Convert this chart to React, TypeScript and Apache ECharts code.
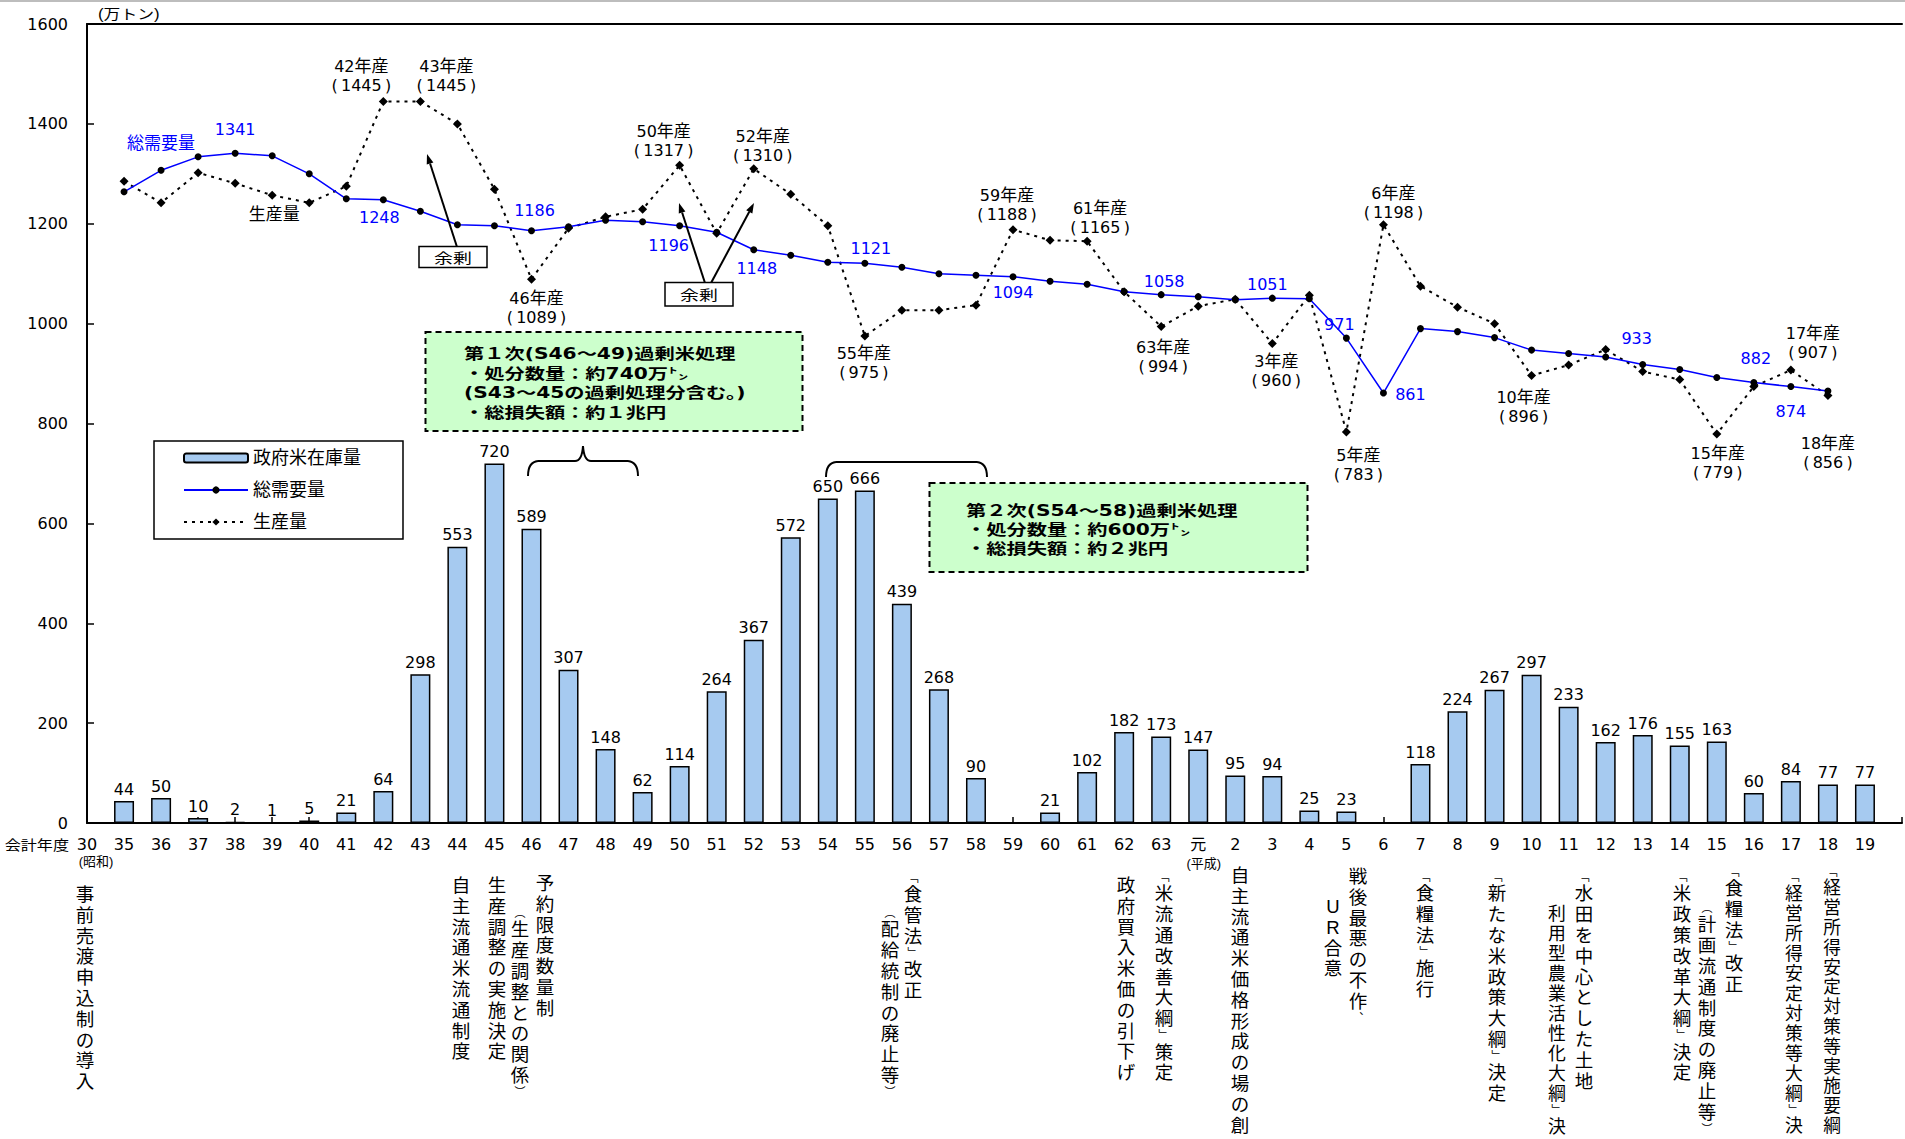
import React, { useEffect, useRef } from "react";
import * as echarts from "echarts";

// ---- data ----
const fiscalYears = [
  "30", "35", "36", "37", "38", "39", "40", "41", "42", "43", "44", "45", "46", "47", "48", "49",
  "50", "51", "52", "53", "54", "55", "56", "57", "58", "59", "60", "61", "62", "63",
  "元", "2", "3", "4", "5", "6", "7", "8", "9", "10", "11", "12", "13", "14", "15", "16", "17", "18", "19",
];

// 政府米在庫量 (万トン)
const stockVolume = [
  null, 44, 50, 10, 2, 1, 5, 21, 64, 298, 553, 720, 589, 307, 148, 62,
  114, 264, 367, 572, 650, 666, 439, 268, 90, null, 21, 102, 182, 173,
  147, 95, 94, 25, 23, null, 118, 224, 267, 297, 233, 162, 176, 155, 163, 60, 84, 77, 77,
];

// 総需要量 (万トン)
const totalDemand = [
  null, 1264, 1307, 1334, 1341, 1336, 1300, 1250, 1248, 1225, 1198, 1196, 1186, 1194, 1207, 1204,
  1196, 1183, 1148, 1137, 1123, 1121, 1113, 1100, 1097, 1094, 1085, 1079, 1064, 1058,
  1054, 1048, 1051, 1050, 971, 861, 990, 984, 972, 947, 940, 933, 918, 908, 892, 882, 874, 865, null,
];

// 生産量 (万トン)
const production = [
  null, 1285, 1242, 1302, 1281, 1257, 1242, 1275, 1445, 1445, 1400, 1269, 1089, 1191, 1214, 1229,
  1317, 1181, 1310, 1259, 1196, 975, 1027, 1027, 1037, 1188, 1167, 1165, 1064, 994,
  1035, 1049, 960, 1057, 783, 1198, 1075, 1033, 1000, 896, 917, 948, 904, 888, 779, 874, 907, 856, null,
];

const yTickMin = 0;
const yTickMax = 1600;
const yTickStep = 200;

// label placement notes (offsets in px from the point)
const demandNotes = [
  { year: "36", name: "総需要量", dx: 0, dy: -27 },
  { year: "38", dx: 0, dy: -24 },
  { year: "42", dx: -4, dy: 18 },
  { year: "46", dx: 3, dy: -20 },
  { year: "50", dx: -11, dy: 20 },
  { year: "52", dx: 3, dy: 19 },
  { year: "55", dx: 6, dy: -15 },
  { year: "59", dx: 0, dy: 16 },
  { year: "63", dx: 3, dy: -13 },
  { year: "3", dx: -5, dy: -14 },
  { year: "5", dx: -7, dy: -14 },
  { year: "6", dx: 27, dy: 1 },
  { year: "12", dx: 31, dy: -19 },
  { year: "16", dx: 2, dy: -24 },
  { year: "17", dx: 0, dy: 25 },
];

const productionNotes = [
  { year: "39", name: "生産量", dx: 2, dy: 19 },
  { year: "42", dx: -22, dy: -25 },
  { year: "43", dx: 26, dy: -25 },
  { year: "46", dx: 5, dy: 29 },
  { year: "50", dx: -16, dy: -24 },
  { year: "52", dx: 9, dy: -23 },
  { year: "55", dx: -1, dy: 27 },
  { year: "59", dx: -6, dy: -25 },
  { year: "61", dx: 13, dy: -23 },
  { year: "63", dx: 2, dy: 30 },
  { year: "3", dx: 4, dy: 27 },
  { year: "5", dx: 12, dy: 33 },
  { year: "6", dx: 10, dy: -22 },
  { year: "10", dx: -8, dy: 31 },
  { year: "15", dx: 1, dy: 29 },
  { year: "17", dx: 22, dy: -27 },
  { year: "18", dx: 0, dy: 57 },
];

// policy events written vertically under the axis (the text visible in the reference)
const policyEvents = [
  { text: "事前売渡申込制の導入", x: 85, y: 884 },
  { text: "自主流通米流通制度", x: 461, y: 875 },
  { text: "生産調整の実施決定", x: 497, y: 875 },
  { text: "︵生産調整との関係︶", x: 520, y: 907 },
  { text: "予約限度数量制", x: 545, y: 873 },
  { text: "﹁食管法﹂改正", x: 913, y: 872 },
  { text: "︵配給統制の廃止等︶", x: 890, y: 907 },
  { text: "政府買入米価の引下げ", x: 1126, y: 875 },
  { text: "﹁米流通改善大綱﹂策定", x: 1164, y: 871 },
  { text: "自主流通米価格形成の場の創", x: 1240, y: 865 },
  { text: "戦後最悪の不作︑", x: 1358, y: 866 },
  { text: "UR合意", x: 1333, y: 896 },
  { text: "﹁食糧法﹂施行", x: 1425, y: 871 },
  { text: "﹁新たな米政策大綱﹂決定", x: 1497, y: 871 },
  { text: "﹁水田を中心とした土地", x: 1584, y: 871 },
  { text: "利用型農業活性化大綱﹂決", x: 1557, y: 904, pitch: 20 },
  { text: "﹁米政策改革大綱﹂決定", x: 1682, y: 871 },
  { text: "﹁食糧法﹂改正", x: 1734, y: 866 },
  { text: "︵計画流通制度の廃止等︶", x: 1707, y: 902 },
  { text: "﹁経営所得安定対策等大綱﹂決", x: 1794, y: 871, pitch: 20 },
  { text: "﹁経営所得安定対策等実施要綱", x: 1832, y: 866, pitch: 19.8 },
];

const surplusBox1 = ["第１次(S46～49)過剰米処理", "・処分数量：約740万㌧", "(S43～45の過剰処理分含む。)", "・総損失額：約１兆円"];
const surplusBox2 = ["第２次(S54～58)過剰米処理", "・処分数量：約600万㌧", "・総損失額：約２兆円"];

// ---- styling helpers ----
const LATIN = "'DejaVu Sans', 'Noto Sans CJK JP', sans-serif";
const COMPACT = "'Liberation Sans', 'Noto Sans CJK JP', sans-serif";
const CJK = "'Noto Sans CJK JP', 'DejaVu Sans', sans-serif";
const BLUE = "#0000ff";

function richFor(color: string) {
  return {
    num: { fontFamily: LATIN, fontSize: 16, lineHeight: 19, color },
    cjk: { fontFamily: COMPACT, fontSize: 17, lineHeight: 19, color },
  };
}

function buildDemand() {
  return totalDemand.map((v, i) => {
    const note = demandNotes.find((n) => n.year === fiscalYears[i]);
    if (v == null || !note) return v;
    const text = note.name ? `{cjk|${note.name}}` : `{num|${v}}`;
    return {
      value: v,
      label: {
        show: true,
        position: "inside",
        offset: [note.dx, note.dy],
        color: BLUE,
        textBorderWidth: 0,
        formatter: () => text,
        rich: richFor(BLUE),
      },
    };
  });
}

function buildProduction() {
  return production.map((v, i) => {
    const note = productionNotes.find((n) => n.year === fiscalYears[i]);
    if (v == null || !note) return v;
    const text = note.name
      ? `{cjk|${note.name}}`
      : `{num|${fiscalYears[i]}}{cjk|年産}\n{num|(\u2009${v}\u2009)}`;
    return {
      value: v,
      label: {
        show: true,
        position: "inside",
        offset: [note.dx, note.dy],
        color: "#000",
        textBorderWidth: 0,
        formatter: () => text,
        rich: richFor("#000"),
      },
    };
  });
}

const HALF = new Set(["﹁", "﹂", "︵", "︶", "︑"]);
function verticalText(t: string, x: number, y: number, pitch = 20.8) {
  const fs = Math.min(18.5, pitch / 1.12);
  const s = Array.from(t)
    .map((ch) => (HALF.has(ch) ? `{h|${ch}}` : `{f|${ch}}`))
    .join("\n");
  return {
    type: "text",
    x,
    y,
    z: 10,
    style: {
      text: s,
      align: "center",
      verticalAlign: "top",
      fill: "#000",
      font: `${fs}px ${COMPACT}`,
      rich: {
        f: { fontSize: fs, lineHeight: pitch, fontFamily: COMPACT, fill: "#000" },
        h: { fontSize: 11, lineHeight: 12.5, fontFamily: COMPACT, fill: "#000" },
      },
    },
  };
}

function arrow(x1: number, y1: number, x2: number, y2: number) {
  const dx = x2 - x1;
  const dy = y2 - y1;
  const L = Math.hypot(dx, dy);
  const ux = dx / L;
  const uy = dy / L;
  const bx = x2 - ux * 10;
  const by = y2 - uy * 10;
  const nx = -uy;
  const ny = ux;
  return [
    { type: "line", z: 10, shape: { x1, y1, x2: bx, y2: by }, style: { stroke: "#000", lineWidth: 2 } },
    {
      type: "polygon",
      z: 10,
      shape: { points: [[x2, y2], [bx + nx * 3.5, by + ny * 3.5], [bx - nx * 3.5, by - ny * 3.5]] },
      style: { fill: "#000" },
    },
  ];
}

function curve(x1: number, y1: number, cx: number, cy: number, x2: number, y2: number) {
  return {
    type: "bezierCurve",
    z: 10,
    shape: { x1, y1, cpx1: cx, cpy1: cy, x2, y2 },
    style: { stroke: "#000", lineWidth: 2, fill: null },
  };
}
function seg(x1: number, y1: number, x2: number, y2: number) {
  return { type: "line", z: 10, shape: { x1, y1, x2, y2 }, style: { stroke: "#000", lineWidth: 2 } };
}

function boxText(lines: string[], x: number, y: number, lh: number) {
  return {
    type: "text",
    x,
    y,
    z: 11,
    scaleX: 1.35,
    style: {
      text: lines.join("\n"),
      font: `bold 15px ${LATIN}`,
      lineHeight: lh,
      fill: "#000",
      align: "left",
      verticalAlign: "top",
    },
  };
}

function surplusLabel(x: number, y: number, w: number, h: number) {
  return [
    { type: "rect", z: 11, shape: { x, y, width: w, height: h }, style: { fill: "#fff", stroke: "#000", lineWidth: 1.5 } },
    {
      type: "text",
      z: 12,
      x: x + w / 2,
      y: y + h / 2 + 1,
      scaleX: 1.35,
      style: { text: "余剰", font: `14px ${COMPACT}`, fill: "#000", align: "center", verticalAlign: "middle" },
    },
  ];
}

function buildOption() {
  const axisData = [...fiscalYears, ""];
  const pad = (arr: any[]) => [...arr, null];

  const graphics: any[] = [
    { type: "rect", z: 10, shape: { x: 0, y: 0, width: 1905, height: 2 }, style: { fill: "#bdbdbd" } },
    {
      type: "text",
      x: 98,
      y: 14,
      scaleX: 1.2,
      z: 10,
      style: { text: "(万トン)", font: `14px ${COMPACT}`, fill: "#000", align: "left", verticalAlign: "middle" },
    },
    {
      type: "text",
      x: 69,
      y: 845,
      scaleX: 1.15,
      z: 10,
      style: { text: "会計年度", font: `14px ${COMPACT}`, fill: "#000", align: "right", verticalAlign: "middle" },
    },
    // green boxes
    {
      type: "rect",
      z: 10,
      shape: { x: 425.5, y: 332, width: 377, height: 99 },
      style: { fill: "#ccffcc", stroke: "#000", lineWidth: 2, lineDash: [6, 4] },
    },
    boxText(surplusBox1, 464, 344, 19.5),
    {
      type: "rect",
      z: 10,
      shape: { x: 929.5, y: 483, width: 378, height: 89 },
      style: { fill: "#ccffcc", stroke: "#000", lineWidth: 2, lineDash: [6, 4] },
    },
    boxText(surplusBox2, 966, 500.5, 19.2),
    // braces
    curve(528, 476, 528, 462, 538, 461),
    seg(538, 461, 575, 461),
    curve(575, 461, 582, 461, 583, 446),
    curve(583, 446, 584, 461, 591, 461),
    seg(591, 461, 628, 461),
    curve(628, 461, 638, 462, 638, 476),
    curve(826, 477, 826, 463, 836, 462),
    seg(836, 462, 977, 462),
    curve(977, 462, 987, 463, 987, 477),
    // surplus arrows and labels
    ...arrow(457, 247, 427, 154),
    ...arrow(705, 283, 679, 203),
    ...arrow(711, 283, 754, 203),
    ...surplusLabel(419, 246.5, 68, 21),
    ...surplusLabel(665, 282.5, 68, 23.5),
    ...policyEvents.map((e) => verticalText(e.text, e.x, e.y, e.pitch)),
  ];

  return {
    animation: false,
    backgroundColor: "#fff",
    textStyle: { fontFamily: LATIN },
    grid: { left: 87, right: 0, top: 24, bottom: 316, containLabel: false },
    legend: {
      orient: "vertical",
      left: 154,
      top: 441,
      padding: [8, 42, 8, 29],
      itemGap: 14,
      itemWidth: 64,
      itemHeight: 9,
      borderColor: "#000",
      borderWidth: 1.5,
      backgroundColor: "#fff",
      textStyle: { fontFamily: COMPACT, fontSize: 18, color: "#000" },
      data: ["政府米在庫量", "総需要量", "生産量"],
    },
    xAxis: [
      {
        type: "category",
        data: axisData,
        boundaryGap: false,
        axisLine: { lineStyle: { color: "#000", width: 2 } },
        axisTick: { show: true, inside: true, length: 6, interval: 0, lineStyle: { color: "#000", width: 1.5 } },
        axisLabel: {
          interval: 0,
          margin: 13,
          color: "#000",
          formatter: (v: string) => {
            if (v === "30") return "{a|30}\n{s|(昭和)}";
            if (v === "元") return "{a|元}\n{t|(平成)}";
            return `{a|${v}}`;
          },
          rich: {
            a: { fontFamily: LATIN, fontSize: 16, lineHeight: 17, color: "#000" },
            s: { fontFamily: COMPACT, fontSize: 13, lineHeight: 16, color: "#000", padding: [0, 0, 0, 18] },
            t: { fontFamily: COMPACT, fontSize: 13, lineHeight: 20, color: "#000", padding: [0, 0, 0, 11] },
          },
        },
        splitLine: { show: false },
      },
      {
        type: "category",
        position: "top",
        data: axisData,
        boundaryGap: false,
        axisLine: { show: true, lineStyle: { color: "#000", width: 2 } },
        axisTick: { show: false },
        axisLabel: { show: false },
        splitLine: { show: false },
      },
    ],
    yAxis: {
      type: "value",
      min: yTickMin,
      max: yTickMax,
      interval: yTickStep,
      axisLine: { show: true, lineStyle: { color: "#000", width: 2 } },
      axisTick: { show: true, inside: true, length: 7, lineStyle: { color: "#000", width: 1.5 } },
      axisLabel: {
        fontFamily: LATIN,
        fontSize: 16,
        color: "#000",
        margin: 19,
        formatter: (v: number) => String(v),
      },
      splitLine: { show: false },
    },
    series: [
      {
        name: "政府米在庫量",
        type: "bar",
        data: pad(stockVolume),
        barWidth: 20,
        itemStyle: { color: "#a6caf0", borderColor: "#000", borderWidth: 1.5 },
        label: { show: true, position: "top", distance: 4, fontFamily: LATIN, fontSize: 16, color: "#000" },
        z: 2,
      },
      {
        name: "総需要量",
        type: "line",
        data: pad(buildDemand()),
        symbol: "circle",
        symbolSize: 7,
        itemStyle: { color: "#000" },
        lineStyle: { color: BLUE, width: 1.5 },
        label: { show: false },
        z: 4,
      },
      {
        name: "生産量",
        type: "line",
        data: pad(buildProduction()),
        symbol: "diamond",
        symbolSize: 9,
        itemStyle: { color: "#000" },
        lineStyle: { color: "#000", width: 2, type: [3, 5] },
        label: { show: false },
        z: 3,
      },
    ],
    graphic: graphics,
  };
}

export default function App() {
  const ref = useRef<HTMLDivElement>(null);
  useEffect(() => {
    document.body.style.margin = "0";
    document.body.style.overflow = "hidden";
    const chart = echarts.init(ref.current as HTMLDivElement, null, { renderer: "svg" });
    chart.setOption(buildOption() as any);
    return () => chart.dispose();
  }, []);
  return <div ref={ref} style={{ width: 1905, height: 1139 }} />;
}
